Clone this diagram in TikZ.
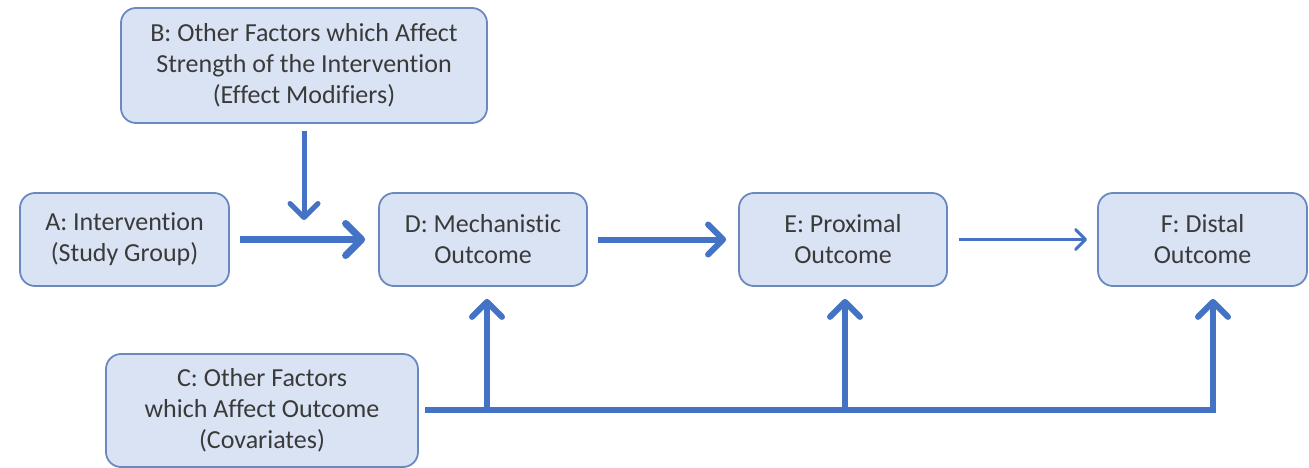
\documentclass[tikz,border=0pt]{standalone}
\usepackage{fontspec}
\setmainfont[Ligatures=NoCommon]{Carlito}
\usetikzlibrary{arrows.meta}
\definecolor{boxfill}{HTML}{DAE3F3}
\definecolor{boxline}{HTML}{6A89BF}
\definecolor{flow}{HTML}{4472C4}
\definecolor{txt}{HTML}{3A3A3A}
\begin{document}
\begin{tikzpicture}[x=1pt,y=-1pt,
  box/.style={draw=boxline, line width=1.8pt, fill=boxfill, rounded corners=15pt,
    align=center, text=txt, inner sep=0pt,
    font=\fontsize{26}{31}\selectfont},
  flowline/.style={draw=flow},
  tip/.style={-{Straight Barb[length=#1,width=2*#1,round]}}
]
\useasboundingbox (0,0) rectangle (1309,468);

% boxes
\node[box, minimum width=209pt, minimum height=93pt] (A) at (124.5,239.5) {A: Intervention\\(Study Group)};
\node[box, minimum width=366pt, minimum height=115pt] (B) at (304,65.5) {B: Other Factors which Affect\\Strength of the Intervention\\(Effect Modifiers)};
\node[box, minimum width=312pt, minimum height=113pt] (C) at (262,410.5) {C: Other Factors\\which Affect Outcome\\(Covariates)};
\node[box, minimum width=208pt, minimum height=93pt] (D) at (483,239.5) {D: Mechanistic\\Outcome};
\node[box, minimum width=208pt, minimum height=93pt] (E) at (843,239.5) {E: Proximal\\Outcome};
\node[box, minimum width=209pt, minimum height=93pt] (F) at (1202.5,239.5) {F: Distal\\Outcome};

% free ends and junctions
\coordinate (bend) at (304,220);
\coordinate (cs) at (425,410);
\coordinate (jD) at (487,410);
\coordinate (jE) at (845,410);
\coordinate (jF) at (1213,410);

% main chain
\draw[flowline, line width=7pt, tip=16pt, shorten <=10pt, shorten >=13pt] (A.east) -- (D.west);
\draw[flowline, line width=6pt, tip=15pt, shorten <=10pt, shorten >=12pt] (D.east) -- (E.west);
\draw[flowline, line width=3pt, tip=10pt, shorten <=11pt, shorten >=10pt] (E.east) -- (F.west);

% effect modifiers
\draw[flowline, line width=5pt, tip=14pt, shorten <=7pt] (B.south) -- (bend);

% covariates: trunk and branches
\draw[flowline, line width=6pt] (cs) -- (jF);
\draw[flowline, line width=6pt, tip=15pt, shorten >=12pt] ([yshift=-3pt]jD) -- (jD |- D.south);
\draw[flowline, line width=6pt, tip=15pt, shorten >=12pt] ([yshift=-3pt]jE) -- (jE |- E.south);
\draw[flowline, line width=6pt, tip=15pt, shorten >=12pt] ([yshift=-3pt]jF) -- (jF |- F.south);
\end{tikzpicture}
\end{document}
